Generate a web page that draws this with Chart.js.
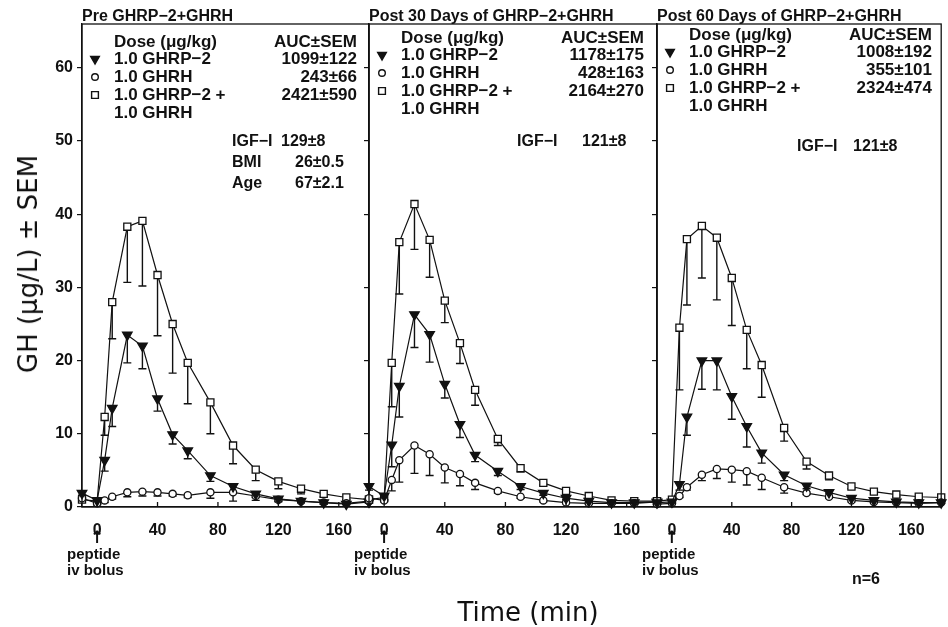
<!DOCTYPE html>
<html>
<head>
<meta charset="utf-8">
<script src="https://cdn.jsdelivr.net/npm/chart.js@4.4.0/dist/chart.umd.min.js"></script>
<style>
html, body { margin: 0; padding: 0; background: #fff; }
#wrap { position: relative; width: 948px; height: 627px; overflow: hidden; }
#wrap canvas { position: absolute; left: 0; top: 0; }
.lbl { position: absolute; color: #111; white-space: nowrap; }
#ytitle { font: 26px "DejaVu Sans"; left: 28px; top: 264px; transform: translate(-50%, -50%) rotate(-90deg); }
#xtitle { font: 26px "DejaVu Sans"; left: 528px; top: 612px; transform: translate(-50%, -50%); }
#nlabel { font: bold 16px "Liberation Sans"; left: 866px; top: 579px; transform: translate(-50%, -50%); }
</style>
</head>
<body>
<div id="wrap">
  <canvas id="p0" width="948" height="627"></canvas>
  <canvas id="p1" width="948" height="627"></canvas>
  <canvas id="p2" width="948" height="627"></canvas>
  <div class="lbl" id="ytitle">GH (μg/L) ± SEM</div>
  <div class="lbl" id="xtitle">Time (min)</div>
  <div class="lbl" id="nlabel">n=6</div>
</div>
<script>
// sampling times (min), same for every panel
var times = [-10, 0, 5, 10, 20, 30, 40, 50, 60, 75, 90, 105, 120, 135, 150, 165, 180];
var xTickValues = [0, 40, 80, 120, 160];
var yTickValues = [0, 10, 20, 30, 40, 50, 60];

// Pre GHRP-2+GHRH
var ghrp2Pre     = [1.9, 0.9, 6.4, 13.5, 23.5, 22.0, 14.8, 9.9, 7.7, 4.3, 2.8, 1.8, 1.1, 0.8, 0.6, 0.4, 0.7];
var ghrp2PreSem  = [0.3, 0.2, 1.5, 2.5, 3.8, 3.1, 1.7, 1.3, 1.1, 0.8, 0.7, 0.5, 0.3, 0.2, 0.2, 0.1, 0.2];
var ghrhPre      = [1.2, 0.5, 0.9, 1.4, 2.0, 2.1, 2.0, 1.8, 1.6, 2.0, 2.0, 1.5, 1.0, 0.8, 0.6, 0.5, 0.8];
var ghrhPreSem   = [0.3, 0.2, 0.3, 0.3, 0.6, 0.6, 0.5, 0.3, 0.3, 0.8, 1.2, 0.6, 0.3, 0.2, 0.2, 0.1, 0.2];
var comboPre     = [1.0, 0.8, 12.3, 28.0, 38.3, 39.1, 31.7, 25.0, 19.7, 14.3, 8.4, 5.1, 3.5, 2.5, 1.8, 1.3, 1.0];
var comboPreSem  = [0.3, 0.2, 2.5, 5.0, 7.6, 8.9, 8.3, 6.7, 5.6, 4.3, 2.5, 1.5, 1.0, 0.7, 0.4, 0.3, 0.2];

// Post 30 days
var ghrp2Day30    = [2.8, 1.5, 8.5, 16.5, 26.3, 23.6, 16.8, 11.3, 7.1, 4.9, 2.8, 1.9, 1.2, 0.8, 0.6, 0.6, 0.7];
var ghrp2Day30Sem = [0.5, 0.5, 3.0, 4.2, 4.5, 3.8, 1.9, 1.8, 0.9, 0.6, 0.4, 0.3, 0.2, 0.2, 0.1, 0.1, 0.1];
var ghrhDay30     = [1.2, 0.9, 3.7, 6.4, 8.4, 7.2, 5.4, 4.5, 3.3, 2.2, 1.4, 0.9, 0.6, 0.5, 0.5, 0.5, 0.7];
var ghrhDay30Sem  = [0.2, 0.2, 1.5, 3.0, 3.8, 2.9, 2.1, 1.6, 0.9, 0.3, 0.2, 0.2, 0.1, 0.1, 0.1, 0.1, 0.1];
var comboDay30    = [1.0, 1.3, 19.7, 36.2, 41.4, 36.5, 28.2, 22.4, 16.0, 9.3, 5.3, 3.3, 2.2, 1.5, 0.9, 0.8, 0.8];
var comboDay30Sem = [0.3, 0.3, 6.0, 7.1, 6.2, 5.1, 3.0, 2.8, 2.1, 0.9, 0.5, 0.3, 0.3, 0.2, 0.2, 0.1, 0.1];

// Post 60 days
var ghrp2Day60    = [0.6, 0.7, 3.1, 12.3, 20.0, 20.0, 15.1, 11.0, 7.4, 4.4, 2.9, 2.0, 1.2, 0.9, 0.7, 0.6, 0.6];
var ghrp2Day60Sem = [0.2, 0.2, 0.8, 2.5, 3.9, 4.0, 3.1, 2.8, 1.4, 0.8, 0.4, 0.2, 0.2, 0.2, 0.1, 0.1, 0.1];
var ghrhDay60     = [0.4, 0.5, 1.5, 2.7, 4.4, 5.2, 5.1, 4.9, 4.0, 2.7, 1.9, 1.4, 0.9, 0.7, 0.6, 0.5, 0.6];
var ghrhDay60Sem  = [0.1, 0.1, 0.2, 0.4, 0.8, 1.3, 1.7, 1.9, 1.6, 0.8, 0.2, 0.2, 0.2, 0.1, 0.1, 0.1, 0.1];
var comboDay60    = [0.8, 1.0, 24.5, 36.6, 38.4, 36.8, 31.3, 24.2, 19.4, 10.8, 6.2, 4.3, 2.8, 2.1, 1.7, 1.4, 1.3];
var comboDay60Sem = [0.2, 0.2, 8.5, 9.0, 7.1, 8.5, 6.5, 5.3, 4.4, 1.8, 1.0, 0.6, 0.3, 0.3, 0.3, 0.2, 0.2];

var panelTitles = ['Pre GHRP\u22122+GHRH', 'Post 30 Days of GHRP\u22122+GHRH', 'Post 60 Days of GHRP\u22122+GHRH'];
var doseHeader = 'Dose (\u03bcg/kg)';
var aucHeader = 'AUC\u00b1SEM';
var seriesNames = ['1.0 GHRP\u22122', '1.0 GHRH', '1.0 GHRP\u22122 +'];
var seriesNameCont = '1.0 GHRH';
var aucPre = ['1099\u00b1122', '243\u00b166', '2421\u00b1590'];
var aucDay30 = ['1178\u00b1175', '428\u00b1163', '2164\u00b1270'];
var aucDay60 = ['1008\u00b1192', '355\u00b1101', '2324\u00b1474'];
var statsPre = [['IGF\u2212I', '129\u00b18'], ['BMI', '26\u00b10.5'], ['Age', '67\u00b12.1']];
var statsDay30 = [['IGF\u2212I', '121\u00b18']];
var statsDay60 = [['IGF\u2212I', '121\u00b18']];
var boluslines = ['peptide', 'iv bolus'];

var INK = '#111';
var FONT = '"Liberation Sans", Arial, sans-serif';

// marker styles: filled down triangle, open circle, open square
var markers = [
    { pointStyle: 'triangle', radius: 5.5, legendRadius: 5, rotation: 180, fill: INK },
    { pointStyle: 'circle', radius: 3.6, legendRadius: 3.3, rotation: 0, fill: '#fff' },
    { pointStyle: 'rect', radius: 5, legendRadius: 4.8, rotation: 0, fill: '#fff' }
];

var panels = [
    { left: 82, right: 369, series: [ghrp2Pre, ghrhPre, comboPre], sem: [ghrp2PreSem, ghrhPreSem, comboPreSem],
      title: panelTitles[0], auc: aucPre, stats: statsPre, statLabelX: 150, statValueX: [199, 213, 213], statY: [142, 163, 184], dy: 4 },
    { left: 369, right: 657, series: [ghrp2Day30, ghrhDay30, comboDay30], sem: [ghrp2Day30Sem, ghrhDay30Sem, comboDay30Sem],
      title: panelTitles[1], auc: aucDay30, stats: statsDay30, statLabelX: 148, statValueX: [213], statY: [142], dy: 0 },
    { left: 657, right: 946, series: [ghrp2Day60, ghrhDay60, comboDay60], sem: [ghrp2Day60Sem, ghrhDay60Sem, comboDay60Sem],
      title: panelTitles[2], auc: aucDay60, stats: statsDay60, statLabelX: 140, statValueX: [196], statY: [147], dy: -3 }
];

function toPoints(values) {
    return times.map(function (t, i) { return { x: t, y: values[i] }; });
}

function drawMarker(ctx, m, x, y, r) {
    ctx.save();
    ctx.fillStyle = m.fill;
    ctx.strokeStyle = INK;
    ctx.lineWidth = 1.4;
    Chart.helpers.drawPoint(ctx, { pointStyle: m.pointStyle, radius: r, rotation: m.rotation, borderWidth: 1.4 }, x, y);
    ctx.restore();
}

// SEM bars drawn downward from each mean, with a small cap
var semBars = {
    id: 'semBars',
    beforeDatasetsDraw: function (chart) {
        var ctx = chart.ctx, yScale = chart.scales.y;
        ctx.save();
        ctx.strokeStyle = INK;
        ctx.lineWidth = 1.4;
        chart.data.datasets.forEach(function (ds, i) {
            var meta = chart.getDatasetMeta(i);
            meta.data.forEach(function (pt, j) {
                var sem = ds.sem[j];
                if (!sem) return;
                var yLow = yScale.getPixelForValue(ds.data[j].y - sem);
                ctx.beginPath();
                ctx.moveTo(pt.x, pt.y);
                ctx.lineTo(pt.x, yLow);
                ctx.moveTo(pt.x - 4, yLow);
                ctx.lineTo(pt.x + 4, yLow);
                ctx.stroke();
            });
        });
        ctx.restore();
    }
};

// frame, inward x ticks, and the text printed inside each panel
var panelText = {
    id: 'panelText',
    afterDraw: function (chart, args, opts) {
        var ctx = chart.ctx, a = chart.chartArea, x0 = a.left, dy = opts.dy;
        var xScale = chart.scales.x;
        ctx.save();
        ctx.strokeStyle = INK;
        ctx.lineWidth = 1.3;
        ctx.strokeRect(a.left, a.top, a.right - a.left, a.bottom - a.top);
        ctx.beginPath();
        xTickValues.forEach(function (v) {
            var px = xScale.getPixelForValue(v);
            ctx.moveTo(px, a.bottom);
            ctx.lineTo(px, a.bottom - 5);
        });
        ctx.stroke();

        ctx.fillStyle = INK;
        ctx.textBaseline = 'middle';
        ctx.font = 'bold 16px ' + FONT;
        ctx.textAlign = 'left';
        ctx.fillText(opts.title, x0, 17);

        ctx.font = 'bold 17px ' + FONT;
        ctx.fillText(doseHeader, x0 + 32, 38 + dy);
        var rowY = [55, 73, 91];
        seriesNames.forEach(function (name, k) {
            ctx.fillText(name, x0 + 32, rowY[k] + dy);
        });
        ctx.fillText(seriesNameCont, x0 + 32, 109 + dy);
        ctx.textAlign = 'right';
        ctx.fillText(aucHeader, x0 + 275, 38 + dy);
        opts.auc.forEach(function (v, k) {
            ctx.fillText(v, x0 + 275, rowY[k] + dy);
        });
        ctx.textAlign = 'left';
        ctx.font = 'bold 16px ' + FONT;
        opts.stats.forEach(function (s, k) {
            ctx.fillText(s[0], x0 + opts.statLabelX, opts.statY[k]);
            ctx.fillText(s[1], x0 + opts.statValueX[k], opts.statY[k]);
        });
        markers.forEach(function (m, k) {
            drawMarker(ctx, m, x0 + 13, rowY[k] + dy, m.legendRadius);
        });

        // injection marker under time 0
        var zx = xScale.getPixelForValue(0);
        ctx.fillStyle = INK;
        ctx.font = 'bold 17px "DejaVu Sans"';
        ctx.textAlign = 'center';
        ctx.fillText('\u2191', zx, 539);
        ctx.font = 'bold 15px ' + FONT;
        ctx.textAlign = 'left';
        ctx.fillText(boluslines[0], a.left - 15, 555);
        ctx.fillText(boluslines[1], a.left - 15, 571);
        ctx.restore();
    }
};

function makePanel(idx) {
    var p = panels[idx];
    var yWidth = idx === 0 ? 40 : 6;
    var datasets = p.series.map(function (values, k) {
        var m = markers[k];
        return {
            data: toPoints(values),
            sem: p.sem[k],
            borderColor: INK,
            borderWidth: 1.2,
            pointStyle: m.pointStyle,
            pointRadius: m.radius,
            pointRotation: m.rotation,
            pointBackgroundColor: m.fill,
            pointBorderColor: INK,
            pointBorderWidth: 1.3,
            tension: 0,
            clip: false
        };
    });

    new Chart(document.getElementById('p' + idx), {
        type: 'line',
        data: { datasets: datasets },
        options: {
            responsive: false,
            animation: false,
            events: [],
            layout: { padding: { left: p.left - yWidth, right: 948 - p.right, top: 24, bottom: 627 - 507 - 30 } },
            plugins: {
                legend: { display: false },
                tooltip: { enabled: false },
                panelText: { title: p.title, auc: p.auc, stats: p.stats, statLabelX: p.statLabelX,
                             statValueX: p.statValueX, statY: p.statY, dy: p.dy }
            },
            scales: {
                x: {
                    type: 'linear',
                    min: -10,
                    max: 180,
                    afterBuildTicks: function (scale) {
                        scale.ticks = xTickValues.map(function (v) { return { value: v }; });
                    },
                    afterFit: function (scale) { scale.height = 30; },
                    grid: { display: false },
                    border: { display: true, color: INK, width: 1.3 },
                    ticks: { color: INK, padding: 6, maxRotation: 0, autoSkip: false,
                             font: { family: FONT, size: 16, weight: 'bold' } }
                },
                y: {
                    min: 0,
                    max: 66,
                    afterBuildTicks: function (scale) {
                        scale.ticks = yTickValues.map(function (v) { return { value: v }; });
                    },
                    afterFit: function (scale) { scale.width = yWidth; },
                    grid: { display: true, drawOnChartArea: false, drawTicks: true, tickLength: 5, color: INK, lineWidth: 1.2 },
                    border: { display: true, color: INK, width: 1.3 },
                    ticks: { display: idx === 0, color: INK, padding: 4,
                             font: { family: FONT, size: 16, weight: 'bold' } }
                }
            }
        },
        plugins: [semBars, panelText]
    });
}

panels.forEach(function (p, i) { makePanel(i); });
</script>
</body>
</html>
